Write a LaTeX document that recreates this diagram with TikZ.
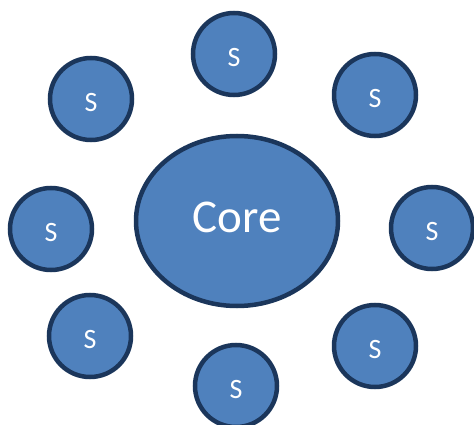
\documentclass[tikz,border=0pt]{standalone}
\usepackage{fontspec}
\setmainfont{Carlito}
\usetikzlibrary{shapes.geometric}
\definecolor{satfill}{HTML}{4F81BD}
\definecolor{satline}{HTML}{1B365B}
\tikzset{
  sat/.style={circle, draw=satline, fill=satfill, line width=4.5pt,
    minimum size=82pt, inner sep=0pt},
  satname/.style={text=white, font=\fontsize{28}{28}\selectfont},
  corenode/.style={ellipse, draw=satline, fill=satfill, line width=4.5pt,
    minimum width=202pt, minimum height=170pt, inner sep=0pt,
    text=white, font=\fontsize{47}{47}\selectfont}
}
\newcommand{\satellite}[3]{%
  \node[sat, label={[satname, yshift=-4pt, name=#1-txt]center:#3}] (#1) at (#2) {};}
\begin{document}
\begin{tikzpicture}[x=1pt, y=-1pt]
  \useasboundingbox (0,0) rectangle (474,425);
  % central node
  \node[corenode] (core) at (237,221) {\raisebox{8.5pt}{Core}};
  % surrounding nodes
  \satellite{top}{234,54}{S}
  \satellite{topleft}{91,99}{S}
  \satellite{topright}{375,95}{S}
  \satellite{left}{51,229}{S}
  \satellite{right}{432,228}{S}
  \satellite{botleft}{90,336}{S}
  \satellite{botright}{375,346}{S}
  \satellite{bottom}{236,386}{S}
\end{tikzpicture}
\end{document}
